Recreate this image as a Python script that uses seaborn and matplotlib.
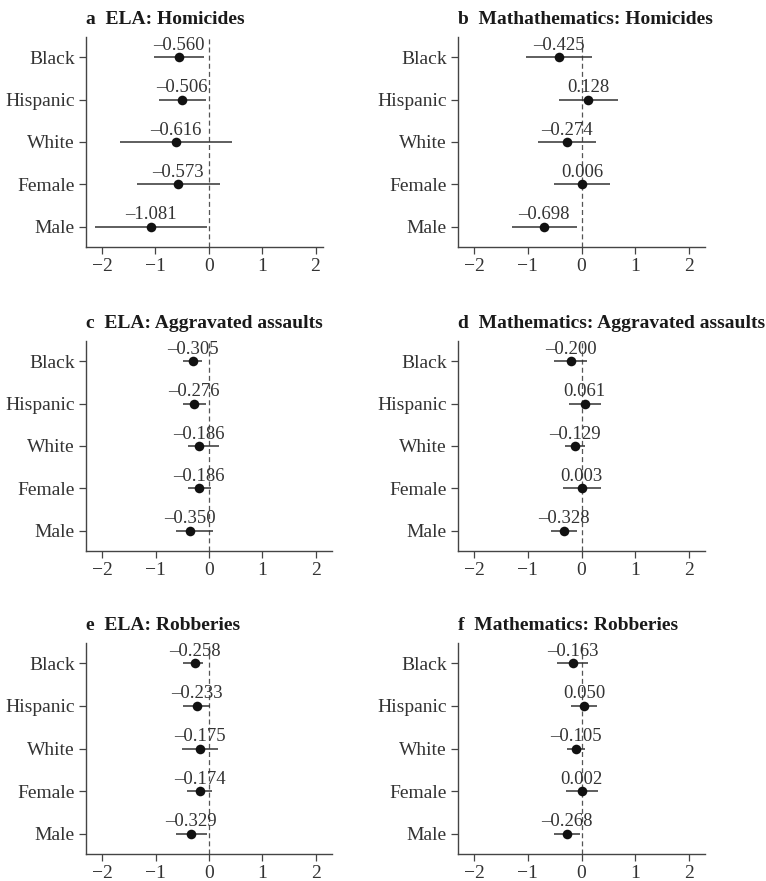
import numpy as np
import pandas as pd
import matplotlib
matplotlib.use("Agg")
import matplotlib.pyplot as plt
import seaborn as sns

groups = ["Black", "Hispanic", "White", "Female", "Male"]

titles = ["a  ELA: Homicides", "b  Mathathematics: Homicides",
          "c  ELA: Aggravated assaults", "d  Mathematics: Aggravated assaults",
          "e  ELA: Robberies", "f  Mathematics: Robberies"]

est_a = [-0.560, -0.506, -0.616, -0.573, -1.081]
lo_a = [-1.03, -0.94, -1.66, -1.34, -2.14]
hi_a = [-0.09, -0.06, 0.43, 0.21, -0.03]

est_b = [-0.425, 0.128, -0.274, 0.006, -0.698]
lo_b = [-1.04, -0.42, -0.81, -0.52, -1.30]
hi_b = [0.19, 0.68, 0.27, 0.54, -0.09]

est_c = [-0.305, -0.276, -0.186, -0.186, -0.350]
lo_c = [-0.48, -0.49, -0.39, -0.40, -0.61]
hi_c = [-0.13, -0.06, 0.19, 0.03, 0.07]

est_d = [-0.200, 0.061, -0.129, 0.003, -0.328]
lo_d = [-0.51, -0.24, -0.31, -0.35, -0.57]
hi_d = [0.11, 0.37, 0.06, 0.36, -0.08]

est_e = [-0.258, -0.233, -0.175, -0.174, -0.329]
lo_e = [-0.48, -0.48, -0.51, -0.41, -0.61]
hi_e = [-0.11, 0.01, 0.16, 0.05, -0.04]

est_f = [-0.163, 0.050, -0.105, 0.002, -0.268]
lo_f = [-0.45, -0.19, -0.27, -0.29, -0.52]
hi_f = [0.13, 0.29, 0.06, 0.30, -0.03]

panels = [(est_a, lo_a, hi_a), (est_b, lo_b, hi_b), (est_c, lo_c, hi_c),
          (est_d, lo_d, hi_d), (est_e, lo_e, hi_e), (est_f, lo_f, hi_f)]

sns.set_style("white")
plt.rcParams['font.family'] = ['Liberation Serif', 'DejaVu Serif']

W, H = 766, 881
fig = plt.figure(figsize=(W / 100, H / 100), dpi=100)

# axes boxes in pixels: left, top, right, bottom
boxes = [(86, 37, 323, 247), (458, 37, 705, 247),
         (86, 341, 332, 551), (458, 341, 705, 551),
         (86, 643, 332, 854), (458, 643, 705, 854)]
xlims = [(-2.3, 2.14), (-2.3, 2.3), (-2.3, 2.3), (-2.3, 2.3), (-2.3, 2.3), (-2.3, 2.3)]

txt = "#333333"
for i, (est, lo, hi) in enumerate(panels):
    l, t, r, b = boxes[i]
    ax = fig.add_axes([l / W, 1 - b / H, (r - l) / W, (b - t) / H])
    df = pd.DataFrame({"group": groups, "est": est, "lo": lo, "hi": hi})
    ax.axvline(0, color="#555555", lw=0.9, ls=(0, (4, 2.5)), zorder=1)
    ax.hlines(y=np.arange(len(groups)), xmin=df["lo"], xmax=df["hi"],
              color="#333333", lw=1.1, zorder=2)
    sns.scatterplot(data=df, x="est", y="group", ax=ax, color="#111111",
                    s=48, edgecolor="#111111", linewidth=0, zorder=3)
    for j, v in enumerate(est):
        lab = f"{v:.3f}".replace("-", "\u2013")
        ax.annotate(lab, (v, j), xytext=(0, 2.5), textcoords="offset points",
                    ha="center", va="bottom", fontsize=13.5, color=txt)
    ax.set_xlim(*xlims[i])
    ax.set_ylim(4.48, -0.48)
    ax.set_xticks([-2, -1, 0, 1, 2])
    ax.set_xticklabels(["\u22122", "\u22121", "0", "1", "2"])
    ax.set_xlabel("")
    ax.set_ylabel("")
    for s in ["top", "right"]:
        ax.spines[s].set_visible(False)
    for s in ["left", "bottom"]:
        ax.spines[s].set_color("#444444")
        ax.spines[s].set_linewidth(1.0)
    ax.tick_params(axis="both", direction="out", length=5, width=0.9,
                   color="#444444", labelsize=14, labelcolor=txt, pad=3)
    ax.tick_params(axis="x", bottom=True)
    ax.tick_params(axis="y", left=True)
    ax.set_title(titles[i], loc="left", fontsize=14, fontweight="bold",
                 color="#1a1a1a", pad=9, x=0.0)

plt.savefig("out.png", dpi=100)
